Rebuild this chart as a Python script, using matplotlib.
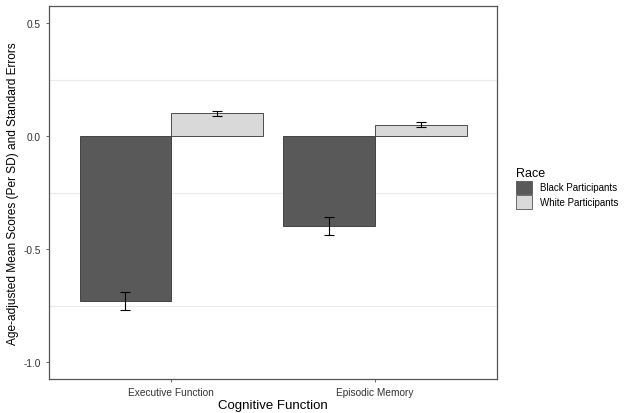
import numpy as np
import matplotlib
matplotlib.use('Agg')
import matplotlib.pyplot as plt
from matplotlib.patches import Patch

plt.rcParams['font.family'] = ['Liberation Sans', 'DejaVu Sans']

categories = ['Executive Function', 'Episodic Memory']
groups = ['Black Participants', 'White Participants']
black_means = [-0.73, -0.40]
black_se = [0.04, 0.04]
white_means = [0.10, 0.05]
white_se = [0.01, 0.01]
colors = ['#595959', '#d9d9d9']

fig = plt.figure(figsize=(6.3, 4.14), dpi=100)
ax = fig.add_axes([0.078, 0.082, 0.711, 0.901])

x = np.arange(1, len(categories) + 1)
w = 0.45
for i, (m, se) in enumerate([(black_means, black_se), (white_means, white_se)]):
    pos = x - w / 2 + i * w
    ax.bar(pos, m, width=w, color=colors[i], edgecolor='#333333', linewidth=0.6, zorder=2)
    ax.errorbar(pos, m, yerr=se, fmt='none', ecolor='black', elinewidth=0.8,
                capsize=3.3, capthick=0.8, zorder=3)

ax.set_xlim(0.4, 2.6)
ax.set_ylim(-1.075, 0.575)
ax.set_yticks([0.5, 0.0, -0.5, -1.0])
ax.set_yticklabels(['0.5', '0.0', '-0.5', '-1.0'])
ax.set_yticks([0.25, -0.25, -0.75], minor=True)
ax.grid(which='minor', axis='y', color='#ebebeb', linewidth=0.8, zorder=0)
ax.tick_params(axis='y', which='minor', length=0)
ax.set_xticks(x)
ax.set_xticklabels(categories)
ax.tick_params(axis='both', which='major', labelsize=7.3, colors='#4d4d4d', length=2.5, width=0.6)
for t in ax.get_xticklabels() + ax.get_yticklabels():
    t.set_color('#333333')
for s in ax.spines.values():
    s.set_color('#555555')
    s.set_linewidth(0.9)

ax.set_xlabel('Cognitive Function', fontsize=9.5, labelpad=1)
ax.set_ylabel('Age-adjusted Mean Scores (Per SD) and Standard Errors', fontsize=8.6, labelpad=3)

handles = [Patch(facecolor=colors[i], edgecolor='#555555', linewidth=0.6, label=groups[i]) for i in range(2)]
leg = fig.legend(handles=handles, title='Race', loc='upper left', bbox_to_anchor=(0.805, 0.615),
                 frameon=False, fontsize=7, title_fontsize=9, handlelength=1.7, handleheight=1.75,
                 handletextpad=0.8, labelspacing=0.15)
leg._legend_box.align = 'left'

fig.savefig('out.png', dpi=100)
